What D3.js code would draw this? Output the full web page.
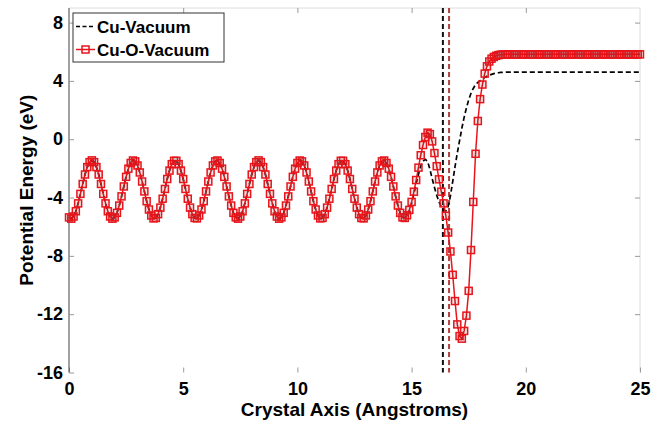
<!DOCTYPE html>
<html>
<head>
<meta charset="utf-8">
<script src="https://cdn.jsdelivr.net/npm/d3@7"></script>
<style>
  body { margin: 0; background: #fff; overflow: hidden; }
  svg { display: block; font-family: "Liberation Sans", Arial, sans-serif; }
  .axis text { font-size: 18px; font-weight: bold; fill: #000; }
  .axis line { stroke: #999; }
</style>
</head>
<body>
<svg id="chart" width="663" height="426"></svg>
<script>
// Дані, крок по осі 0.1 Å
const xStep = 0.1;

// Спільна частина (об'єм кристала, 0 … 14.6 Å) — криві збігаються
const bulkPotential = [
  -5.36, -5.45, -5.30, -4.94, -4.40, -3.75, -3.07, -2.42, -1.91, -1.57,
  -1.45, -1.57, -1.91, -2.42, -3.07, -3.75, -4.40, -4.94, -5.30, -5.45,
  -5.36, -5.05, -4.55, -3.92, -3.24, -2.58, -2.02, -1.63, -1.46, -1.52,
  -1.80, -2.28, -2.90, -3.58, -4.25, -4.82, -5.23, -5.43, -5.40, -5.14,
  -4.69, -4.08, -3.41, -2.73, -2.15, -1.71, -1.48, -1.48, -1.71, -2.15,
  -2.73, -3.41, -4.08, -4.69, -5.14, -5.40, -5.43, -5.23, -4.82, -4.25,
  -3.58, -2.90, -2.28, -1.80, -1.52, -1.46, -1.63, -2.02, -2.58, -3.24,
  -3.92, -4.55, -5.05,
  -5.36, -5.45, -5.30, -4.94, -4.40, -3.75, -3.07, -2.42, -1.91, -1.57,
  -1.45, -1.57, -1.91, -2.42, -3.07, -3.75, -4.40, -4.94, -5.30, -5.45,
  -5.36, -5.05, -4.55, -3.92, -3.24, -2.58, -2.02, -1.63, -1.46, -1.52,
  -1.80, -2.28, -2.90, -3.58, -4.25, -4.82, -5.23, -5.43, -5.40, -5.14,
  -4.69, -4.08, -3.41, -2.73, -2.15, -1.71, -1.48, -1.48, -1.71, -2.15,
  -2.73, -3.41, -4.08, -4.69, -5.14, -5.40, -5.43, -5.23, -4.82, -4.25,
  -3.58, -2.90, -2.28, -1.80, -1.52, -1.46, -1.63, -2.02, -2.58, -3.24,
  -3.92, -4.55, -5.05, -5.36
];

// Поверхня + вакуум (14.7 … 25 Å)
const cuVacuumTail = [
  -5.40, -5.25, -4.92, -4.40, -3.75, -3.05, -2.40, -1.85, -1.50, -1.38,
  -1.52, -2.05, -2.70, -3.30, -3.85, -4.30, -4.65, -4.88, -4.92, -4.60,
  -3.90, -2.90, -1.90, -0.95, -0.10, 0.75, 1.50, 2.15, 2.70, 3.15,
  3.48, 3.74, 3.90, 4.02, 4.13, 4.23, 4.32, 4.39, 4.45, 4.50,
  4.53, 4.56, 4.58, 4.59,
  4.60, 4.60, 4.60, 4.60, 4.60, 4.60, 4.60, 4.60, 4.60, 4.60,
  4.60, 4.60, 4.60, 4.60, 4.60, 4.60, 4.60, 4.60, 4.60, 4.60,
  4.60, 4.60, 4.60, 4.60, 4.60, 4.60, 4.60, 4.60, 4.60, 4.60,
  4.60, 4.60, 4.60, 4.60, 4.60, 4.60, 4.60, 4.60, 4.60, 4.60,
  4.60, 4.60, 4.60, 4.60, 4.60, 4.60, 4.60, 4.60, 4.60, 4.60,
  4.60, 4.60, 4.60, 4.60, 4.60, 4.60, 4.60, 4.60, 4.60, 4.60
];

const cuOVacuumTail = [
  -5.40, -5.22, -4.85, -4.30, -3.60, -2.80, -1.95, -1.10, -0.40, 0.15,
  0.45, 0.35, -0.15, -0.95, -1.85, -2.75, -3.60, -4.40, -5.25, -6.40,
  -7.70, -9.30, -11.10, -12.70, -13.50, -13.68, -13.15, -12.10, -10.40, -7.60,
  -4.30, -1.00, 1.25, 2.75, 3.75, 4.50, 5.00, 5.33, 5.52, 5.64,
  5.72, 5.77, 5.80, 5.81,
  5.82, 5.82, 5.82, 5.82, 5.82, 5.82, 5.82, 5.82, 5.82, 5.82,
  5.82, 5.82, 5.82, 5.82, 5.82, 5.82, 5.82, 5.82, 5.82, 5.82,
  5.82, 5.82, 5.82, 5.82, 5.82, 5.82, 5.82, 5.82, 5.82, 5.82,
  5.82, 5.82, 5.82, 5.82, 5.82, 5.82, 5.82, 5.82, 5.82, 5.82,
  5.82, 5.82, 5.82, 5.82, 5.82, 5.82, 5.82, 5.82, 5.82, 5.82,
  5.82, 5.82, 5.82, 5.82, 5.82, 5.82, 5.82, 5.82, 5.82, 5.82
];

// Вертикальні пунктирні лінії (межі поверхні)
const surfaceLines = [16.37, 16.64];

const seriesNames = ["Cu-Vacuum", "Cu-O-Vacuum"];
const xTicks = [0, 5, 10, 15, 20, 25];
const yTicks = [-16, -12, -8, -4, 0, 4, 8];

// Налаштування SVG та відступів
const svg = d3.select("#chart");
const width = +svg.attr("width");
const height = +svg.attr("height");
const margin = { top: 8, right: 23, bottom: 53.5, left: 69 };
const innerWidth = width - margin.left - margin.right;
const innerHeight = height - margin.top - margin.bottom;

const g = svg.append("g").attr("transform", `translate(${margin.left},${margin.top})`);

const xScale = d3.scaleLinear().domain([0, 25]).range([0, innerWidth]);
const yScale = d3.scaleLinear().domain([-16, 9]).range([innerHeight, 0]);

const toPoints = (vals) => vals.map((v, i) => ({ x: i * xStep, y: v }));
const cuVac = toPoints(bulkPotential.concat(cuVacuumTail));
const cuOVac = toPoints(bulkPotential.concat(cuOVacuumTail));

// Звичайний дефіс замість знака мінус
const plainFormat = (d) => String(d);

// Рамка: верх і право світлі, ліва вісь темна
g.append("line").attr("x1", 0).attr("x2", innerWidth).attr("y1", 0).attr("y2", 0)
  .attr("stroke", "#dcdcdc");
g.append("line").attr("x1", innerWidth).attr("x2", innerWidth).attr("y1", 0).attr("y2", innerHeight)
  .attr("stroke", "#dcdcdc");

// Осі
const xAxisG = g.append("g").attr("class", "axis")
  .attr("transform", `translate(0,${innerHeight})`)
  .call(d3.axisBottom(xScale).tickValues(xTicks).tickFormat(plainFormat)
    .tickSizeInner(-5).tickSizeOuter(0).tickPadding(10));
xAxisG.select(".domain").remove();

const yAxisG = g.append("g").attr("class", "axis")
  .call(d3.axisLeft(yScale).tickValues(yTicks).tickFormat(plainFormat)
    .tickSizeInner(-5).tickSizeOuter(0).tickPadding(6));
yAxisG.select(".domain").attr("stroke", "#444").attr("d", `M0,0V${innerHeight}`);

g.append("g").attr("class", "axis")
  .attr("transform", `translate(${innerWidth},0)`)
  .call(d3.axisRight(yScale).tickValues(yTicks.slice(1)).tickSizeInner(-5).tickSizeOuter(0).tickFormat(""))
  .select(".domain").remove();
g.append("g").attr("class", "axis")
  .call(d3.axisTop(xScale).tickValues(xTicks.slice(1, -1)).tickSizeInner(-5).tickSizeOuter(0).tickFormat(""))
  .select(".domain").remove();

// Вертикальні лінії
g.selectAll(".vline").data(surfaceLines).join("line")
  .attr("class", "vline")
  .attr("x1", (d) => xScale(d)).attr("x2", (d) => xScale(d))
  .attr("y1", 0).attr("y2", innerHeight)
  .attr("stroke", (d, i) => (i === 0 ? "#111" : "#b5403e"))
  .attr("stroke-width", 2)
  .attr("stroke-dasharray", "5,3");

const line = d3.line().x((d) => xScale(d.x)).y((d) => yScale(d.y));

// Cu-Vacuum — чорний пунктир
g.append("path").datum(cuVac)
  .attr("d", line).attr("fill", "none")
  .attr("stroke", "#000").attr("stroke-width", 1.7)
  .attr("stroke-dasharray", "5,3");

// Cu-O-Vacuum — червона лінія з квадратами
g.append("path").datum(cuOVac)
  .attr("d", line).attr("fill", "none")
  .attr("stroke", "#e8151b").attr("stroke-width", 1.5);

const ms = 7;
g.selectAll(".mk").data(cuOVac).join("rect")
  .attr("class", "mk")
  .attr("x", (d) => xScale(d.x) - ms / 2)
  .attr("y", (d) => yScale(d.y) - ms / 2)
  .attr("width", ms).attr("height", ms)
  .attr("fill", "rgba(90,40,40,0.12)")
  .attr("stroke", "#e8151b").attr("stroke-width", 1.5);

// Легенда
const lg = svg.append("g").attr("transform", "translate(73,13)");
lg.append("rect").attr("width", 151).attr("height", 49)
  .attr("fill", "#fff").attr("stroke", "#333").attr("stroke-width", 1);
lg.append("line").attr("x1", 3).attr("x2", 22).attr("y1", 13.5).attr("y2", 13.5)
  .attr("stroke", "#000").attr("stroke-width", 1.7).attr("stroke-dasharray", "4,2.5");
lg.append("line").attr("x1", 3).attr("x2", 22).attr("y1", 36.5).attr("y2", 36.5)
  .attr("stroke", "#e8151b").attr("stroke-width", 1.5);
lg.append("rect").attr("x", 12.5 - ms / 2).attr("y", 36.5 - ms / 2).attr("width", ms).attr("height", ms)
  .attr("fill", "none").attr("stroke", "#e8151b").attr("stroke-width", 1.5);
lg.selectAll(".lt").data(seriesNames).join("text")
  .attr("class", "lt")
  .attr("x", 24).attr("y", (d, i) => 19.5 + i * 23)
  .attr("font-size", 17).attr("font-weight", "bold")
  .text((d) => d);

// Написи осей
svg.append("text")
  .attr("x", margin.left + innerWidth / 2).attr("y", 416)
  .attr("text-anchor", "middle")
  .attr("font-size", 19).attr("font-weight", "bold")
  .text("Crystal Axis (Angstroms)");

svg.append("text")
  .attr("transform", `translate(33,${margin.top + innerHeight / 2}) rotate(-90)`)
  .attr("text-anchor", "middle")
  .attr("font-size", 19).attr("font-weight", "bold")
  .text("Potential Energy (eV)");
</script>
</body>
</html>
